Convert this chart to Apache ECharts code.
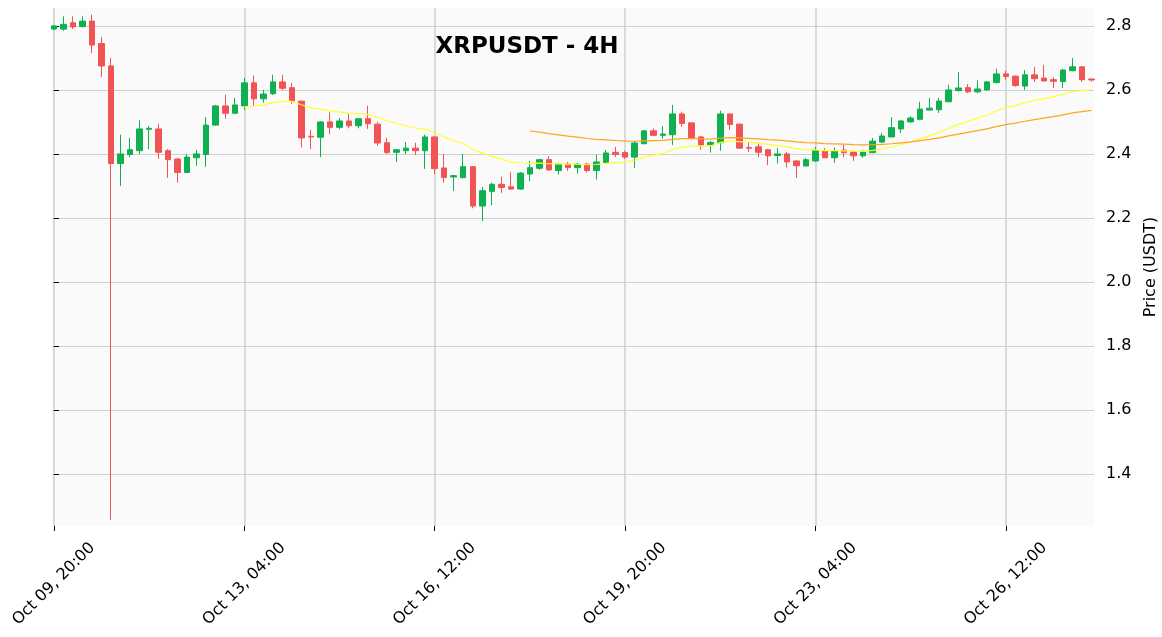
<!DOCTYPE html>
<html lang="en">
<head>
    <meta charset="UTF-8"/>
    <title>XRPUSDT - 4H</title>
    <script src="https://cdn.jsdelivr.net/npm/echarts@6/dist/echarts.min.js"></script>
    <style>body{margin:0;background:#fff}</style>
</head>
<body>
<div id="main" style="width:1162px;height:637px;"></div>
<script type="text/javascript">
    // 4H candles starting Oct 09 20:00
    var startTime = '2025-10-09T20:00:00';
    var opens = [2.790,2.790,2.810,2.798,2.815,2.745,2.675,2.370,2.398,2.410,2.477,2.478,2.410,2.384,2.342,2.388,2.398,2.490,2.550,2.527,
        2.550,2.622,2.572,2.588,2.625,2.607,2.565,2.455,2.452,2.500,2.483,2.503,2.488,2.510,2.493,2.435,2.405,2.410,2.418,2.410,
        2.453,2.356,2.328,2.326,2.360,2.237,2.283,2.305,2.297,2.290,2.337,2.355,2.382,2.348,2.368,2.357,2.368,2.348,2.373,2.405,
        2.404,2.390,2.432,2.472,2.458,2.460,2.525,2.497,2.453,2.428,2.435,2.525,2.493,2.420,2.422,2.413,2.395,2.400,2.378,2.362,
        2.378,2.410,2.388,2.412,2.406,2.394,2.404,2.437,2.453,2.478,2.500,2.508,2.537,2.538,2.563,2.598,2.607,2.594,2.600,2.623,
        2.650,2.643,2.612,2.647,2.637,2.632,2.626,2.660,2.672,2.634];
    var closes = [2.800,2.805,2.797,2.815,2.740,2.675,2.370,2.400,2.413,2.478,2.480,2.405,2.382,2.342,2.390,2.400,2.490,2.550,2.527,2.553,
        2.622,2.572,2.587,2.625,2.605,2.565,2.450,2.453,2.500,2.483,2.503,2.488,2.510,2.494,2.434,2.404,2.413,2.418,2.410,2.453,
        2.354,2.326,2.332,2.360,2.237,2.285,2.305,2.295,2.290,2.340,2.357,2.382,2.350,2.368,2.357,2.368,2.348,2.375,2.403,2.398,
        2.390,2.434,2.472,2.458,2.462,2.525,2.495,2.450,2.428,2.436,2.525,2.492,2.418,2.418,2.405,2.394,2.400,2.375,2.363,2.382,
        2.410,2.388,2.410,2.404,2.394,2.406,2.440,2.456,2.482,2.503,2.512,2.540,2.543,2.565,2.600,2.606,2.594,2.603,2.625,2.650,
        2.642,2.614,2.647,2.635,2.628,2.627,2.662,2.672,2.632,2.631];
    var highs = [2.803,2.830,2.830,2.830,2.835,2.765,2.700,2.460,2.450,2.505,2.487,2.494,2.415,2.388,2.400,2.413,2.515,2.553,2.585,2.575,
        2.637,2.645,2.600,2.647,2.647,2.622,2.565,2.475,2.502,2.530,2.512,2.525,2.512,2.550,2.500,2.450,2.415,2.437,2.435,2.460,
        2.455,2.400,2.335,2.400,2.362,2.297,2.310,2.328,2.343,2.343,2.378,2.385,2.393,2.372,2.375,2.372,2.372,2.397,2.412,2.422,
        2.410,2.440,2.475,2.480,2.487,2.553,2.532,2.497,2.456,2.440,2.535,2.525,2.495,2.437,2.435,2.415,2.418,2.406,2.380,2.388,
        2.422,2.418,2.420,2.428,2.410,2.412,2.450,2.466,2.515,2.506,2.518,2.563,2.575,2.575,2.616,2.656,2.618,2.630,2.628,2.666,
        2.660,2.645,2.662,2.672,2.678,2.640,2.666,2.700,2.672,2.636];
    var lows = [2.787,2.785,2.790,2.795,2.715,2.640,1.256,2.300,2.390,2.400,2.415,2.385,2.325,2.310,2.340,2.363,2.360,2.488,2.510,2.525,
        2.537,2.550,2.560,2.584,2.600,2.557,2.420,2.415,2.390,2.462,2.477,2.480,2.480,2.478,2.425,2.400,2.375,2.400,2.397,2.353,
        2.337,2.310,2.284,2.323,2.230,2.190,2.240,2.278,2.288,2.288,2.315,2.350,2.347,2.335,2.347,2.338,2.342,2.320,2.370,2.390,
        2.385,2.356,2.430,2.455,2.447,2.428,2.485,2.450,2.413,2.404,2.410,2.475,2.418,2.406,2.390,2.365,2.370,2.357,2.325,2.362,
        2.375,2.388,2.372,2.390,2.378,2.388,2.402,2.434,2.462,2.465,2.498,2.505,2.535,2.528,2.562,2.595,2.590,2.590,2.598,2.620,
        2.632,2.610,2.600,2.625,2.627,2.606,2.606,2.658,2.625,2.626];
    var xTicks = [0, 20, 40, 60, 80, 100];
    var yTicks = [1.4, 1.6, 1.8, 2.0, 2.2, 2.4, 2.6, 2.8];

    var t0 = new Date(startTime).getTime();
    var months = ['Jan','Feb','Mar','Apr','May','Jun','Jul','Aug','Sep','Oct','Nov','Dec'];
    function pad(n) { return (n < 10 ? '0' : '') + n; }
    function labelFor(i) {
        var d = new Date(t0 + i * 4 * 3600 * 1000);
        return months[d.getMonth()] + ' ' + pad(d.getDate()) + ', ' + pad(d.getHours()) + ':' + pad(d.getMinutes());
    }

    var candles = [];
    for (var i = 0; i < opens.length; i++) {
        candles.push([i, opens[i], closes[i], lows[i], highs[i]]);
    }
    // exponential average, first shown at index n
    function expAvg(n) {
        var out = [], k = 2 / (n + 1), e = closes[0];
        for (var i = 1; i < closes.length; i++) {
            e = closes[i] * k + e * (1 - k);
            if (i >= n) out.push([i, e]);
        }
        return out;
    }

    var myChart = echarts.init(document.getElementById('main'));
    var option = {
        animation: false,
        backgroundColor: '#ffffff',
        title: {
            text: 'XRPUSDT - 4H',
            left: 522, top: 31, textAlign: 'center',
            textStyle: { fontFamily: 'DejaVu Sans', fontSize: 23, fontWeight: 'bold', color: '#000' }
        },
        grid: { left: 52, right: 68, top: 8, bottom: 111, show: true, backgroundColor: '#fafafa', borderWidth: 0,
            containLabel: false, outerBoundsMode: 'none' },
        xAxis: {
            type: 'value', min: -0.2, max: 109.26,
            axisLine: { show: false },
            axisTick: { show: true, customValues: xTicks, length: 5, lineStyle: { color: '#000' } },
            axisLabel: {
                customValues: xTicks, rotate: 45, fontSize: 16, color: '#000', fontFamily: 'DejaVu Sans',
                align: 'center', verticalAlign: 'middle', margin: 58,
                formatter: function (v) { return labelFor(Math.round(v)); }
            },
            splitLine: { show: true, lineStyle: { color: '#cfcfcf', width: 1.5 } }
        },
        yAxis: {
            type: 'value', position: 'right', min: 1.237, max: 2.856, scale: true,
            name: 'Price (USDT)', nameLocation: 'middle', nameGap: 46, nameRotate: 90,
            nameTextStyle: { fontSize: 16, color: '#000', fontFamily: 'DejaVu Sans' },
            axisLine: { show: false },
            axisTick: { show: true, customValues: yTicks, length: 5, lineStyle: { color: '#000' } },
            axisLabel: {
                customValues: yTicks, fontSize: 16, color: '#000', fontFamily: 'DejaVu Sans', margin: 12,
                formatter: function (v) { return v.toFixed(1); }
            },
            splitLine: { show: true, lineStyle: { color: '#d0d0d0', width: 1 } }
        },
        series: [
            {
                type: 'candlestick', data: candles, barWidth: 6,
                itemStyle: {
                    color: '#0fb04f', color0: '#f05454',
                    borderColor: '#0fb04f', borderColor0: '#f05454', borderWidth: 1
                }
            },
            {
                type: 'line', data: expAvg(20), showSymbol: false,
                lineStyle: { color: '#ffff33', width: 1.2 }
            },
            {
                type: 'line', data: expAvg(50), showSymbol: false,
                lineStyle: { color: '#ffa51c', width: 1.2 }
            }
        ]
    };
    myChart.setOption(option);
</script>
</body>
</html>
